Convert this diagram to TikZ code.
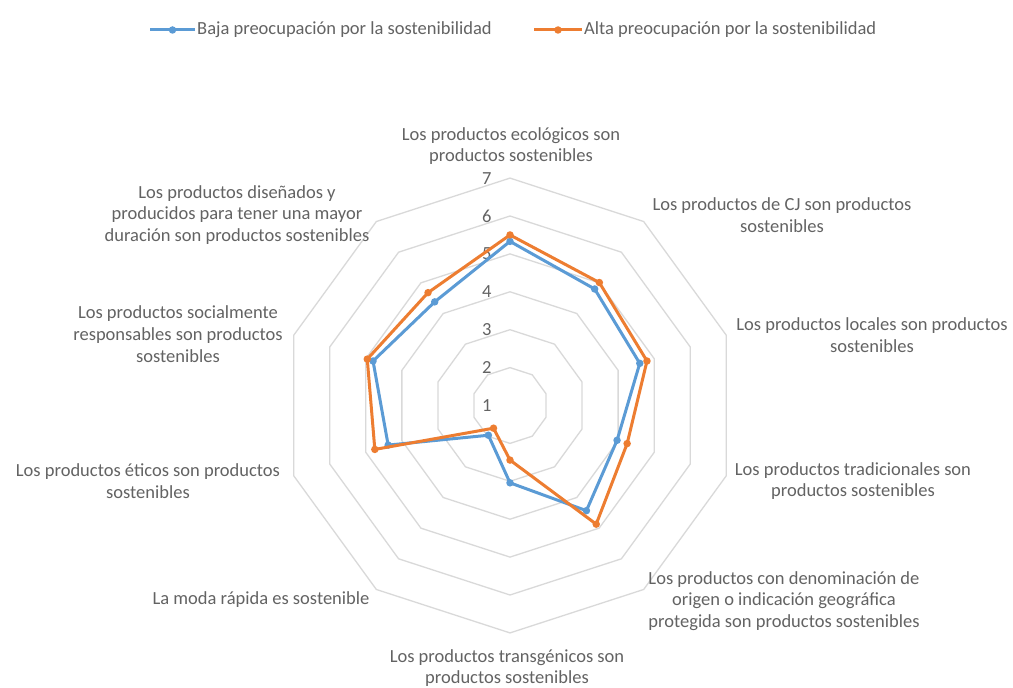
\documentclass[tikz,border=0pt]{standalone}
\usepackage{fontspec}
\setmainfont{Carlito}
\usetikzlibrary{positioning,calc}
\definecolor{baja}{HTML}{5B9BD5}
\definecolor{alta}{HTML}{ED7D31}
\definecolor{rejilla}{HTML}{D9D9D9}
\definecolor{texto}{HTML}{636363}

\begin{document}
\begin{tikzpicture}[
            x=1bp, y=-1bp,
            gridline/.style={draw=rejilla, line width=1.3bp},
            serie/.style={line width=3bp, line join=round},
            punto/.style={circle, inner sep=0pt, minimum size=7.5bp},
            etiqueta/.style={text=texto, align=center, inner sep=0pt, font=\fontsize{18.5bp}{21.8bp}\selectfont},
            valor/.style={text=texto, inner sep=0pt, font=\fontsize{18.5bp}{21.8bp}\selectfont}
        ]
        \useasboundingbox[fill=white] (0,0) rectangle (1013,688);
        \coordinate (c) at (510,405.5);
        \begin{scope}[shift={(c)}, x=37.9bp, y=37.9bp]
            \foreach \r in {1,...,6}
                \draw[gridline] (90:\r) \foreach \k in {1,...,9}{ -- ({90-36*\k}:\r)} -- cycle;
            \foreach \v in {1,...,7}
                \node[valor] (v\v) at (-0.61, \v-1) {\v};
            \foreach \v [count=\k from 0] in {5.33,4.8,4.6,3.97,4.43,3.04,1.97,4.38,4.8,4.38}
                \coordinate (b\k) at ({90-36*\k}:{\v-1});
            \foreach \v [count=\k from 0] in {5.5,5.01,4.8,4.25,4.87,2.44,1.74,4.75,4.96,4.68}
                \coordinate (a\k) at ({90-36*\k}:{\v-1});
            \draw[serie, baja] (b0) \foreach \k in {1,...,9}{ -- (b\k)} -- cycle;
            \foreach \k in {0,...,9}
                \node[punto, fill=baja] (pb\k) at (b\k) {};
            \draw[serie, alta] (a0) \foreach \k in {1,...,9}{ -- (a\k)} -- cycle;
            \foreach \k in {0,...,9}
                \node[punto, fill=alta] (pa\k) at (a\k) {};
        \end{scope}

        \node[etiqueta] (eco) at (511,146) {Los productos ecológicos son\\productos sostenibles};
        \node[etiqueta] (cj) at (782,215) {Los productos de CJ son productos\\sostenibles};
        \node[etiqueta] (loc) at (872,335) {Los productos locales son productos\\sostenibles};
        \node[etiqueta] (trad) at (853,481) {Los productos tradicionales son\\productos sostenibles};
        \node[etiqueta] (dop) at (784,601) {Los productos con denominación de\\origen o indicación geográfica\\protegida son productos sostenibles};
        \node[etiqueta] (transg) at (507,668) {Los productos transgénicos son\\productos sostenibles};
        \node[etiqueta] (moda) at (261,600) {La moda rápida es sostenible};
        \node[etiqueta] (etic) at (148,481) {Los productos éticos son productos\\sostenibles};
        \node[etiqueta] (social) at (178,334) {Los productos socialmente\\responsables son productos\\sostenibles};
        \node[etiqueta] (dura) at (237,215) {Los productos diseñados y\\producidos para tener una mayor\\duración son productos sostenibles};

        \coordinate (lb1) at (150,30);
        \coordinate (lb2) at (195,30);
        \draw[serie, baja] (lb1) -- (lb2);
        \node[punto, fill=baja] (mb) at ($(lb1)!0.5!(lb2)$) {};
        \node[etiqueta, right=2bp of lb2] (leyb) {Baja preocupación por la sostenibilidad};
        \coordinate (la1) at (534,30);
        \coordinate (la2) at (582,30);
        \draw[serie, alta] (la1) -- (la2);
        \node[punto, fill=alta] (ma) at ($(la1)!0.5!(la2)$) {};
        \node[etiqueta, right=2bp of la2] (leya) {Alta preocupación por la sostenibilidad};
\end{tikzpicture}
\end{document}
